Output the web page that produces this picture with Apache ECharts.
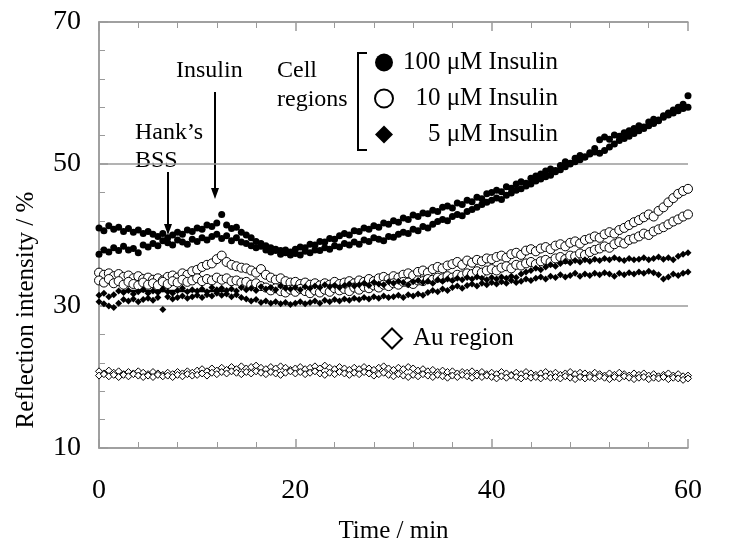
<!DOCTYPE html>
<html>
<head>
<meta charset="utf-8">
<script src="https://cdn.jsdelivr.net/npm/echarts@6/dist/echarts.min.js"></script>
<style>
  html, body { margin: 0; padding: 0; background: #fff; }
  #chart { width: 737px; height: 549px; }
</style>
</head>
<body>
<div id="chart"></div>
<script>
// sampling step of the measurement, minutes
var timeStep = 0.5

// 100 uM insulin, two cell regions (filled circles)
var ins100a = [
  41.0, 40.6, 41.3, 40.8, 41.1, 40.5, 40.9, 40.4, 40.7, 40.2,
  40.5, 40.1, 39.8, 40.2, 39.6, 40.0, 40.4, 40.1, 40.7, 40.5,
  41.0, 40.8, 41.4, 41.2, 41.7, 42.9, 41.4, 40.9, 41.1, 40.4,
  40.0, 39.6, 39.1, 38.8, 38.5, 38.2, 38.0, 37.8, 37.9, 37.6,
  38.0, 38.3, 38.2, 38.7, 38.6, 39.1, 39.0, 39.5, 39.4, 39.9,
  40.2, 40.0, 40.6, 40.5, 41.0, 40.8, 41.3, 41.1, 41.7, 41.5,
  42.0, 41.8, 42.4, 42.2, 42.8, 42.6, 43.1, 43.0, 43.5, 43.3,
  43.9, 44.1, 43.8, 44.5, 44.3, 44.9, 44.7, 45.3, 45.1, 45.8,
  46.0, 46.3, 46.1, 46.8, 46.6, 47.2, 47.5, 47.3, 48.0, 48.3,
  48.6, 49.0, 49.3, 49.1, 49.8, 50.3, 50.1, 50.8, 51.2, 51.0,
  51.6, 52.2, 53.4, 53.8, 53.5, 54.1, 53.9, 54.4, 54.7, 55.0,
  55.4, 55.2, 55.9, 56.3, 56.1, 56.8, 57.2, 57.6, 58.0, 58.4,
  59.6
]
var ins100b = [
  37.3, 37.9, 37.6, 38.2, 37.8, 38.4, 37.9, 38.1, 37.5, 38.6,
  38.3, 38.8, 38.5, 39.2, 38.9, 38.6, 39.3, 39.0, 38.7, 39.4,
  39.1, 39.6, 39.3, 39.8, 40.1, 39.5, 39.9, 39.2, 39.6, 39.0,
  38.8, 38.5, 38.2, 38.4, 37.9, 37.6, 37.8, 37.3, 37.5, 37.2,
  37.4, 37.2, 37.7, 37.5, 37.9, 37.8, 38.2, 38.0, 38.5, 38.3,
  38.8, 38.6, 39.0, 38.7, 39.3, 39.1, 39.6, 39.4, 39.2, 39.8,
  39.7, 40.1, 40.4, 40.2, 40.8, 40.6, 41.2, 41.0, 41.5, 41.9,
  42.2, 42.0, 42.6, 42.9, 42.7, 43.3, 43.6, 43.9, 44.3, 44.6,
  44.9, 45.2, 45.0, 45.6, 45.9, 46.3, 46.5, 46.9, 47.2, 47.6,
  47.9, 48.2, 48.4, 48.9, 49.2, 49.6, 50.0, 50.3, 50.6, 51.0,
  51.4, 51.7, 51.5, 51.9, 52.4, 52.8, 53.3, 53.6, 53.9, 54.3,
  54.7, 55.0, 55.4, 55.7, 56.2, 56.6, 56.9, 57.2, 57.5, 57.8,
  58.0
]

// 10 uM insulin (open circles)
var ins10a = [
  34.7, 34.4, 34.6, 34.2, 34.5, 34.1, 34.3, 33.9, 34.2, 33.8,
  34.0, 33.7, 33.9, 33.6, 34.1, 34.3, 34.0, 34.6, 34.4, 34.9,
  35.1, 35.5, 35.8, 36.0, 36.6, 37.1, 36.2, 35.8, 35.6, 35.4,
  35.3, 35.0, 34.7, 35.2, 34.4, 34.0, 33.7, 33.9, 33.5, 33.3,
  33.4, 33.1, 33.3, 33.0, 33.2, 32.9, 33.2, 33.0, 33.4, 33.1,
  33.3, 33.5, 33.2, 33.6, 33.4, 33.8, 33.5, 33.9, 34.1, 33.8,
  34.2, 34.0, 34.4, 34.6, 34.3, 34.8, 35.0, 34.7, 35.2, 35.5,
  35.3, 35.7, 35.9, 36.2, 35.8, 36.4, 36.1, 36.5, 36.3, 36.7,
  36.6, 36.9, 37.1, 36.8, 37.3, 37.5, 37.2, 37.8, 38.0, 37.7,
  38.1, 38.3, 38.0, 38.5, 38.7, 38.4, 38.9, 39.1, 38.8, 39.3,
  39.5, 39.8, 39.6, 40.1, 40.4, 40.2, 40.7, 41.0, 41.4, 41.8,
  42.1, 42.5, 42.9, 42.6, 43.4, 43.9, 44.6, 45.2, 45.8, 46.2,
  46.5
]
var ins10b = [
  33.6, 33.3, 33.8, 33.2, 33.5, 33.0, 33.4, 33.1, 32.9, 33.3,
  33.0, 33.2, 32.9, 33.4, 33.1, 33.5, 33.3, 33.7, 33.4, 33.6,
  33.9, 33.5, 33.8, 33.6, 34.0, 33.7, 33.9, 33.5, 33.6, 33.3,
  33.4, 33.0, 33.2, 32.8, 32.6, 32.2, 32.5, 32.1, 31.9, 32.3,
  32.0, 32.4, 32.1, 31.8, 32.2, 31.9, 32.3, 32.0, 32.5, 32.2,
  32.4, 32.1, 32.6, 32.3, 32.7, 32.5, 32.9, 32.6, 33.0, 32.8,
  33.2, 33.0, 33.4, 33.3, 33.1, 33.6, 33.5, 33.8, 33.7, 34.0,
  33.9, 34.2, 34.0, 34.4, 34.3, 34.6, 34.5, 34.9, 34.7, 35.0,
  35.2, 35.0, 35.4, 35.6, 35.3, 35.8, 35.7, 36.0, 36.2, 35.9,
  36.3, 36.5, 36.2, 36.7, 36.9, 36.6, 37.1, 37.0, 37.4, 37.2,
  37.6, 37.9, 38.1, 38.4, 38.2, 38.7, 39.0, 38.8, 39.3, 39.5,
  39.8, 40.2, 40.0, 40.5, 40.8, 41.1, 41.5, 41.9, 42.2, 42.6,
  42.9
]

// 5 uM insulin (filled diamonds)
var ins5a = [
  31.5, 31.8, 31.3, 31.6, 32.1, 31.9, 32.2, 31.7, 32.0, 32.3,
  31.8, 32.1, 31.9, 32.4, 32.0, 31.8, 32.2, 32.5, 32.0, 32.3,
  32.1, 32.4, 32.0, 32.6, 32.3, 32.5, 32.2, 32.4, 32.1, 32.6,
  32.3, 32.5, 32.2, 32.7, 32.4, 32.6, 32.3, 32.8, 32.5, 32.4,
  32.6, 32.3, 32.7, 32.5, 32.8, 32.6, 33.0, 32.7, 32.9, 32.6,
  32.9, 33.1, 32.8, 33.0, 33.2, 32.9, 33.3, 33.1, 33.0, 33.4,
  33.2, 33.5, 33.3, 33.0, 33.4, 33.6, 33.3, 33.5, 33.2, 33.7,
  33.5, 33.8, 33.6, 33.9, 33.7, 34.0, 33.8, 34.1, 33.9, 33.7,
  34.0, 33.8, 34.1, 33.9, 34.2, 34.0, 34.5, 34.8, 35.0, 35.3,
  35.1, 35.5, 35.8, 35.6, 36.0, 36.3, 36.1, 36.4, 36.2, 36.5,
  36.3, 36.6, 36.4, 36.7, 36.5, 36.8, 36.6, 36.4, 36.7, 36.5,
  36.6, 36.8, 36.5, 36.7, 36.9, 36.6, 36.8, 36.5, 37.0, 37.3,
  37.5
]
var ins5b = [
  30.6, 30.3, 30.0, 29.8, 30.4, 30.9, 30.7, 31.0, 30.6, 30.9,
  31.1, 30.8, 31.2, 29.5, 31.3, 31.0, 31.2, 31.4, 31.1, 31.3,
  31.5, 31.2, 31.6, 31.4, 31.8, 31.5, 31.7, 31.3, 31.6, 31.2,
  31.0, 30.7, 30.9, 30.5, 30.7, 30.4, 30.6, 30.3, 30.5, 30.2,
  30.4, 30.6, 30.3, 30.5, 30.7, 30.4, 30.8, 30.6, 30.9, 30.7,
  31.0, 30.8, 31.1, 30.9, 31.2, 31.0, 31.3, 31.1, 31.4, 31.2,
  31.3, 31.5, 31.2, 31.6, 31.4, 31.7, 31.5, 31.9, 32.2, 32.0,
  32.4, 32.2, 32.6, 32.8, 32.5, 32.9, 33.1, 32.8, 33.2, 33.0,
  33.3, 33.1, 33.4, 33.2, 33.6, 33.3, 33.5, 33.8, 33.6, 33.9,
  34.1, 33.8, 34.2, 34.0, 34.4, 34.1, 34.3, 34.6, 34.2, 34.5,
  34.3, 34.6, 34.4, 34.7, 34.5, 34.2, 34.6, 34.4, 34.7, 34.5,
  34.8, 34.6, 34.9, 34.7, 34.4, 33.8, 34.1, 34.5, 34.3, 34.6,
  34.8
]

// Au region (open diamonds)
var auA = [
  20.8, 20.5, 20.9, 20.6, 20.8, 20.4, 20.7, 20.5, 20.8, 20.6,
  20.4, 20.7, 20.5, 20.3, 20.6, 20.4, 20.7, 20.5, 20.8, 20.6,
  20.9, 21.1, 20.8, 21.2, 20.9, 21.3, 21.0, 21.4, 21.1, 21.5,
  21.2, 21.4, 21.6, 21.3, 21.1, 21.4, 21.2, 21.5, 21.3, 21.0,
  21.2, 21.4, 21.1, 21.3, 21.5, 21.2, 21.6, 21.3, 21.1, 21.4,
  21.2, 21.0, 21.3, 21.1, 21.4, 21.2, 21.0, 21.3, 21.5, 21.2,
  21.0, 21.3, 21.1, 21.4, 21.2, 20.9, 21.1, 20.8, 21.0, 20.7,
  20.9, 20.7, 20.8, 20.5, 20.7, 20.6, 20.8, 20.5, 20.7, 20.4,
  20.6, 20.4, 20.7, 20.5, 20.3, 20.6, 20.4, 20.7, 20.5, 20.3,
  20.5, 20.7, 20.4, 20.6, 20.3, 20.5, 20.7, 20.4, 20.6, 20.5,
  20.3, 20.6, 20.4, 20.2, 20.5, 20.3, 20.6, 20.4, 20.2, 20.5,
  20.3, 20.5, 20.2, 20.4, 20.1, 20.3, 20.5, 20.2, 20.4, 20.1,
  20.2
]
var auB = [
  20.2, 20.4, 20.1, 20.3, 20.0, 20.3, 20.1, 20.4, 20.2, 20.0,
  20.2, 20.0, 20.3, 20.1, 20.2, 20.0, 20.3, 20.1, 20.4, 20.2,
  20.3, 20.5, 20.2, 20.6, 20.4, 20.7, 20.5, 20.8, 20.6, 20.4,
  20.7, 20.5, 20.8, 20.6, 20.4, 20.7, 20.5, 20.3, 20.6, 20.8,
  20.5, 20.7, 20.4, 20.6, 20.8, 20.5, 20.3, 20.6, 20.4, 20.7,
  20.5, 20.3, 20.6, 20.4, 20.7, 20.5, 20.2, 20.4, 20.6, 20.3,
  20.1, 20.4, 20.2, 20.0, 20.3, 20.1, 20.4, 20.2, 20.0, 20.3,
  20.1, 19.9, 20.2, 20.0, 20.3, 20.1, 19.9, 20.2, 20.0, 20.2,
  20.0, 19.8, 20.1, 19.9, 20.2, 20.0, 19.8, 20.1, 19.9, 20.0,
  19.8, 20.1, 19.9, 20.0, 19.8, 20.1, 19.9, 19.7, 20.0, 19.8,
  20.0, 19.8, 20.1, 19.9, 19.7, 20.0, 19.8, 20.1, 19.9, 19.7,
  19.9, 20.0, 19.7, 19.9, 19.8, 20.0, 19.7, 19.9, 19.8, 19.6,
  19.8
]

// short horizontal segment seen under the early 5 uM points
var segTime = [2.3, 13]
var segValue = [32.1, 32.1]

var xTicks = [0, 20, 40, 60]
var yTicks = [10, 30, 50, 70]

var FONT = '"Liberation Serif", "Times New Roman", serif'
var AXIS_GRAY = '#9a9a9a'

function toPairs(vals) {
  return vals.map(function (v, i) { return [i * timeStep, v] })
}

var chart = echarts.init(document.getElementById('chart'), null, { renderer: 'canvas' })

var filledCircle = { color: '#000', opacity: 1 }
var openCircle = { color: '#fff', borderColor: '#000', borderWidth: 1, opacity: 1 }
var filledDiamond = { color: '#000', opacity: 1 }
var openDiamond = { color: '#fff', borderColor: '#000', borderWidth: 1, opacity: 1 }

function axisBase(pos, showLabel) {
  return {
    type: 'value',
    position: pos,
    axisLine: { show: true, lineStyle: { color: AXIS_GRAY, width: 1.5 } },
    axisTick: { show: true, inside: true, length: 9, lineStyle: { color: AXIS_GRAY, width: 1.5 } },
    minorTick: { show: true, splitNumber: 5, length: 6, lineStyle: { color: AXIS_GRAY, width: 1 } },
    axisLabel: { show: showLabel, color: '#000', fontFamily: FONT, fontSize: 28 },
    splitLine: { show: false }
  }
}

var xBottom = axisBase('bottom', true)
xBottom.min = xTicks[0]; xBottom.max = xTicks[xTicks.length - 1]; xBottom.interval = 20
xBottom.axisLabel.margin = 29
xBottom.name = 'Time / min'
xBottom.nameLocation = 'middle'
xBottom.nameGap = 71
xBottom.nameTextStyle = { color: '#000', fontFamily: FONT, fontSize: 25 }

var xTop = axisBase('top', false)
xTop.min = xTicks[0]; xTop.max = xTicks[xTicks.length - 1]; xTop.interval = 20

var yLeft = axisBase('left', true)
yLeft.min = yTicks[0]; yLeft.max = yTicks[yTicks.length - 1]; yLeft.interval = 20
yLeft.axisLabel.margin = 18
yLeft.splitLine = { show: true, lineStyle: { color: AXIS_GRAY, width: 1.5 } }
yLeft.name = 'Reflection intensity / %'
yLeft.nameLocation = 'middle'
yLeft.nameGap = 60
// the title sits below the middle of the axis in the original figure
yLeft.nameTextStyle = { color: '#000', fontFamily: FONT, fontSize: 25, padding: [0, 150, 0, 0] }

var yRight = {
  type: 'value', position: 'right', min: 10, max: 70, interval: 20,
  axisLine: { show: true, lineStyle: { color: AXIS_GRAY, width: 1.5 } },
  axisTick: { show: false }, axisLabel: { show: false }, splitLine: { show: false }
}

var option = {
  animation: false,
  backgroundColor: '#fff',
  grid: { left: 99, right: 49, top: 22, bottom: 98 },
  xAxis: [xBottom, xTop],
  yAxis: [yLeft, yRight],
  legend: [
    {
      data: ['100 μM Insulin', '10 μM Insulin', '5 μM Insulin'],
      orient: 'vertical',
      left: 369,
      top: 45,
      itemWidth: 18,
      itemHeight: 18,
      itemGap: 11,
      selectedMode: false,
      formatter: '{a|{name}}',
      textStyle: {
        color: '#000',
        rich: { a: { width: 160, align: 'right', fontSize: 25, lineHeight: 26, fontFamily: FONT, color: '#000' } }
      }
    },
    {
      data: ['Au region'],
      left: 376,
      top: 321,
      itemWidth: 20,
      itemHeight: 20,
      selectedMode: false,
      formatter: '{a|{name}}',
      textStyle: {
        color: '#000',
        rich: { a: { padding: [0, 0, 0, 6], fontSize: 25, lineHeight: 26, fontFamily: FONT, color: '#000' } }
      }
    }
  ],
  series: [
    { name: 'Au region', type: 'scatter', symbol: 'diamond', symbolSize: 7, itemStyle: openDiamond, data: toPairs(auA) },
    { name: 'Au region', type: 'scatter', symbol: 'diamond', symbolSize: 7, itemStyle: openDiamond, data: toPairs(auB) },
    { name: '100 μM Insulin', type: 'scatter', symbol: 'circle', symbolSize: 7, itemStyle: filledCircle, data: toPairs(ins100a) },
    { name: '100 μM Insulin', type: 'scatter', symbol: 'circle', symbolSize: 7, itemStyle: filledCircle, data: toPairs(ins100b) },
    { name: '10 μM Insulin', type: 'scatter', symbol: 'circle', symbolSize: 9, itemStyle: openCircle, data: toPairs(ins10a) },
    { name: '10 μM Insulin', type: 'scatter', symbol: 'circle', symbolSize: 9, itemStyle: openCircle, data: toPairs(ins10b) },
    { name: '5 μM Insulin', type: 'scatter', symbol: 'diamond', symbolSize: 7, itemStyle: filledDiamond, data: toPairs(ins5a) },
    { name: '5 μM Insulin', type: 'scatter', symbol: 'diamond', symbolSize: 7, itemStyle: filledDiamond, data: toPairs(ins5b) },
    {
      name: 'segment', type: 'line', silent: true, symbol: 'none',
      lineStyle: { color: '#000', width: 2.5 },
      data: segTime.map(function (t, i) { return [t, segValue[i]] })
    }
  ],
  graphic: [
    { type: 'text', left: 176, top: 59, style: { text: 'Insulin', font: '24px ' + FONT, fill: '#000' } },
    { type: 'line', shape: { x1: 215, y1: 92, x2: 215, y2: 190 }, style: { stroke: '#000', lineWidth: 2 } },
    { type: 'polygon', shape: { points: [[211, 188], [219, 188], [215, 199]] }, style: { fill: '#000' } },
    { type: 'text', left: 135, top: 121, style: { text: 'Hank’s', font: '24px ' + FONT, fill: '#000' } },
    { type: 'text', left: 135, top: 149, style: { text: 'BSS', font: '24px ' + FONT, fill: '#000' } },
    { type: 'line', shape: { x1: 168, y1: 172, x2: 168, y2: 226 }, style: { stroke: '#000', lineWidth: 2 } },
    { type: 'polygon', shape: { points: [[164, 224], [172, 224], [168, 235]] }, style: { fill: '#000' } },
    { type: 'text', left: 277, top: 59, style: { text: 'Cell', font: '24px ' + FONT, fill: '#000' } },
    { type: 'text', left: 277, top: 88, style: { text: 'regions', font: '24px ' + FONT, fill: '#000' } },
    { type: 'polyline', shape: { points: [[367, 53], [358, 53], [358, 150], [367, 150]] }, style: { stroke: '#000', lineWidth: 2, fill: null } }
  ]
}

chart.setOption(option)
</script>
</body>
</html>
